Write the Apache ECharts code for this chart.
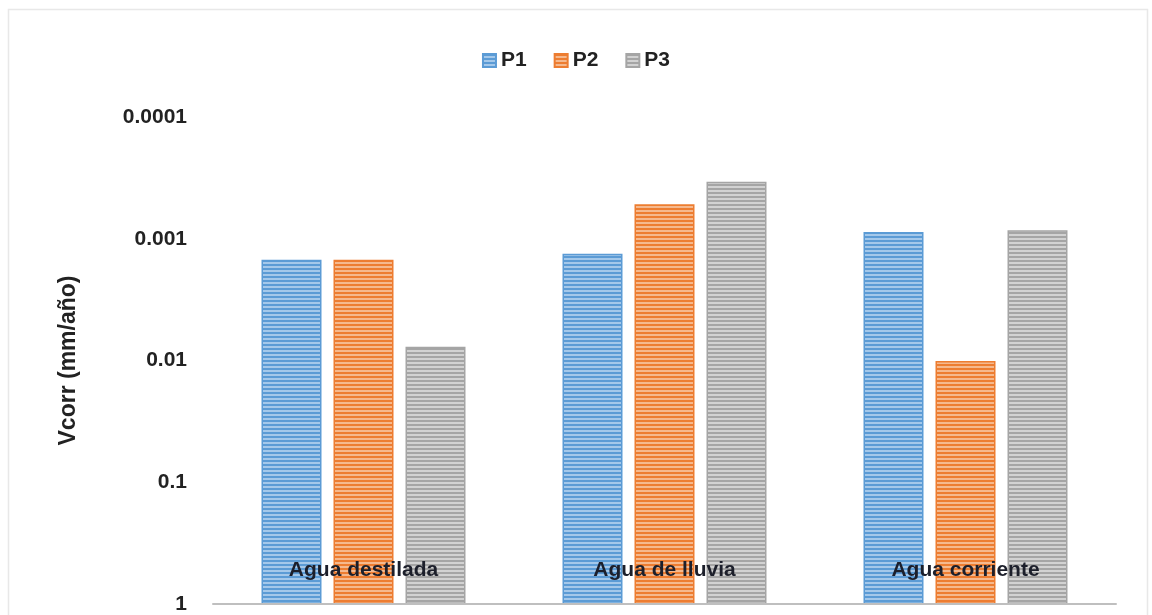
<!DOCTYPE html>
<html>
<head>
<meta charset="utf-8">
<script src="https://cdn.jsdelivr.net/npm/echarts@6/dist/echarts.min.js"></script>
<style>
  html, body { margin: 0; padding: 0; background: #ffffff; }
  #chart { width: 1152px; height: 615px; }
</style>
</head>
<body>
<div id="chart"></div>
<script>
// Corrosion rate by water type (log scale, smaller rates drawn higher)
const categories = ['Agua destilada', 'Agua de lluvia', 'Agua corriente'];
const p1 = [0.00149, 0.00133, 0.00088];
const p2 = [0.00149, 0.00052, 0.0101];
const p3 = [0.0077, 0.00034, 0.00085];
const yTicks = ['0.0001', '0.001', '0.01', '0.1', '1'];

const FONT = '"Liberation Sans", Arial, sans-serif';

// Horizontal-stripe fill: solid series colour alternating with a pale tint
function stripes(base, light) {
  const c = document.createElement('canvas');
  c.width = 4; c.height = 4;
  const g = c.getContext('2d');
  g.fillStyle = light; g.fillRect(0, 0, 4, 4);
  g.fillStyle = base; g.fillRect(0, 0, 4, 2);
  return { image: c, repeat: 'repeat' };
}

const palette = [
  { base: '#5b9bd5', light: '#a4c8ea', edge: '#5b9bd5' },
  { base: '#ed7d31', light: '#f5b98e', edge: '#ed7d31' },
  { base: '#a5a5a5', light: '#d2d2d2', edge: '#a5a5a5' }
];

function barSeries(name, data, idx) {
  const p = palette[idx];
  return {
    name: name,
    type: 'bar',
    data: data,
    barWidth: 60,
    barGap: '20%',
    itemStyle: {
      color: stripes(p.base, p.light),
      borderColor: p.edge,
      borderWidth: 1.5
    }
  };
}

const chart = echarts.init(document.getElementById('chart'), null, { renderer: 'canvas' });

chart.setOption({
  backgroundColor: '#ffffff',
  animation: false,
  graphic: [{
    type: 'rect',
    shape: { x: 8.5, y: 9.5, width: 1139, height: 640 },
    style: { fill: 'none', stroke: '#e8e8e8', lineWidth: 1.5 },
    silent: true
  }],
  legend: {
    top: 45,
    left: 'center',
    itemWidth: 13,
    itemHeight: 13,
    itemGap: 27,
    icon: 'rect',
    textStyle: { fontFamily: FONT, fontWeight: 'bold', fontSize: 21, color: '#222222' },
    data: ['P1', 'P2', 'P3']
  },
  grid: { left: 213, right: 36, top: 117, bottom: 11, containLabel: false },
  xAxis: {
    type: 'category',
    data: categories,
    axisLine: { onZero: false, lineStyle: { color: '#bfbfbf', width: 2 } },
    axisTick: { show: false },
    axisLabel: {
      inside: true,
      margin: 23,
      fontFamily: FONT,
      fontWeight: 'bold',
      fontSize: 21,
      color: '#1c1f2b'
    },
    z: 10
  },
  yAxis: {
    type: 'log',
    logBase: 10,
    inverse: true,
    min: 0.0001,
    max: 1,
    name: 'Vcorr (mm/año)',
    nameLocation: 'middle',
    nameRotate: 90,
    nameGap: 133,
    nameTextStyle: { fontFamily: FONT, fontWeight: 'bold', fontSize: 23, color: '#222222' },
    axisLine: { show: false },
    axisTick: { show: false },
    splitLine: { show: false },
    axisLabel: {
      margin: 26,
      fontFamily: FONT,
      fontWeight: 'bold',
      fontSize: 21,
      color: '#222222',
      formatter: function (v) {
        const e = Math.round(Math.log10(v));
        return yTicks[e + 4];
      }
    }
  },
  series: [
    barSeries('P1', p1, 0),
    barSeries('P2', p2, 1),
    barSeries('P3', p3, 2)
  ]
});
</script>
</body>
</html>
